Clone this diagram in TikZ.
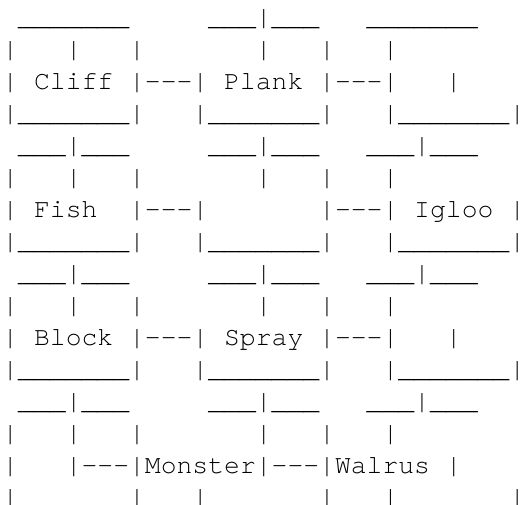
\documentclass[tikz,border=0pt]{standalone}
\usepackage{fontspec}
\setmonofont[Ligatures=NoCommon]{texgyrecursor-regular.otf}
\usepackage{tikz}
\usetikzlibrary{positioning}

% one character cell of the ascii grid
\newcommand{\cw}{15.84}
\newcommand{\lh}{32}

\begin{document}
\begin{tikzpicture}[
    x=1pt, y=-1pt,
    ascii/.style={font=\ttfamily\fontsize{26.4}{32}\selectfont,
                  inner sep=0pt, anchor=base west},
  ]
  \useasboundingbox (0,0) rectangle (525,505);

  % row 1: lids
  \node[ascii] (r1c1)  at ({2.2+1*\cw},  25.5) {\_\_\_\_\_\_\_};
  \node[ascii] (r1c13) at ({2.2+13*\cw}, 25.5) {\_\_\_|\_\_\_};
  \node[ascii] (r1c23) at ({2.2+23*\cw}, 25.5) {\_\_\_\_\_\_\_};

  % rows with bars only
  \foreach \r in {2,6,10,14}
    \foreach \c in {0,4,8,16,20,24}
      \node[ascii] (r\r c\c) at ({2.2+\c*\cw}, {25.5+(\r-1)*\lh}) {|};

  % box bottoms
  \foreach \r in {4,8,12}
    \foreach \c in {0,12,24}
      \node[ascii] (r\r c\c) at ({2.2+\c*\cw}, {25.5+(\r-1)*\lh}) {|\_\_\_\_\_\_\_|};

  % box tops with a post
  \foreach \r in {5,9,13}
    \foreach \c in {1,13,23}
      \node[ascii] (r\r c\c) at ({2.2+\c*\cw}, {25.5+(\r-1)*\lh}) {\_\_\_|\_\_\_};

  % row 3: Cliff, Plank
  \node[ascii] (r3c0)  at ({2.2+0*\cw},  {25.5+2*\lh}) {| Cliff |---| Plank |---|};
  \node[ascii] (r3c28) at ({2.2+28*\cw}, {25.5+2*\lh}) {|};

  % row 7: Fish, Igloo
  \node[ascii] (r7c0)  at ({2.2+0*\cw},  {25.5+6*\lh}) {| Fish};
  \node[ascii] (r7c8)  at ({2.2+8*\cw},  {25.5+6*\lh}) {|---|};
  \node[ascii] (r7c20) at ({2.2+20*\cw}, {25.5+6*\lh}) {|---| Igloo |};

  % row 11: Block, Spray
  \node[ascii] (r11c0)  at ({2.2+0*\cw},  {25.5+10*\lh}) {| Block |---| Spray |---|};
  \node[ascii] (r11c28) at ({2.2+28*\cw}, {25.5+10*\lh}) {|};

  % row 15: Monster, Walrus
  \node[ascii] (r15c0)  at ({2.2+0*\cw},  {25.5+14*\lh}) {|};
  \node[ascii] (r15c4)  at ({2.2+4*\cw},  {25.5+14*\lh}) {|---|Monster|---|Walrus};
  \node[ascii] (r15c28) at ({2.2+28*\cw}, {25.5+14*\lh}) {|};

  % row 16: cut off legs
  \foreach \c in {0,8,12,20,24,32}
    \node[ascii] (r16c\c) at ({2.2+\c*\cw}, {25.5+15*\lh}) {|};
\end{tikzpicture}
\end{document}
